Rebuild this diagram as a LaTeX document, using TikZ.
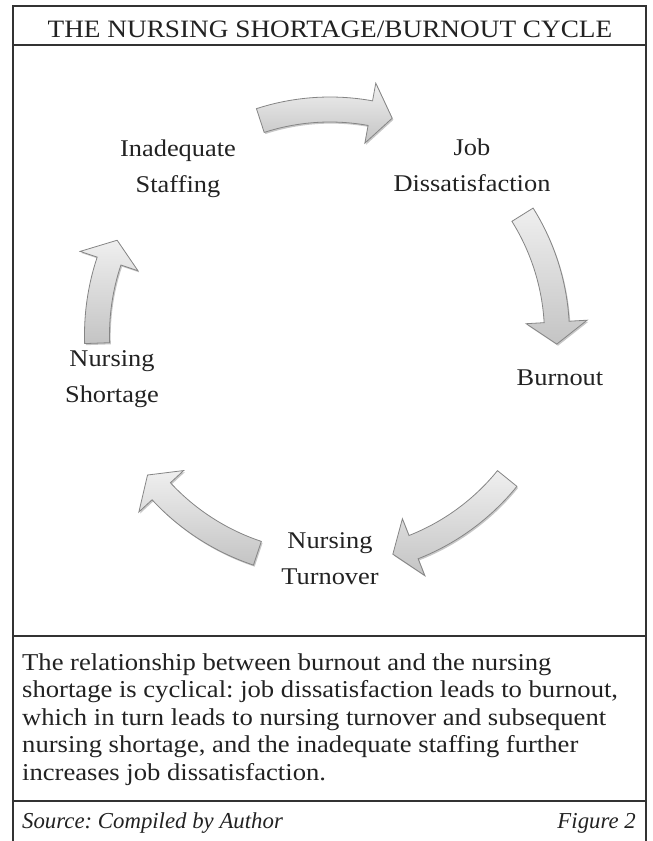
\documentclass[tikz,border=0pt]{standalone}
\usepackage{fontspec}
\setmainfont{Liberation Serif}
\newfontfamily\gfont[FakeStretch=1.1]{Liberation Serif}
\newfontfamily\tfont[FakeStretch=1.09]{Liberation Serif}
\newfontfamily\ifont{Liberation Serif}
\frenchspacing
\usetikzlibrary{shadows}
\definecolor{ink}{HTML}{222222}
\definecolor{framecol}{HTML}{333333}
\definecolor{arrowline}{HTML}{858585}
\definecolor{arrowtop}{HTML}{EFEFEF}
\definecolor{arrowbot}{HTML}{C4C4C4}
\tikzset{
  frameline/.style={draw=framecol, line width=2.2pt},
  titletext/.style={font=\tfont\fontsize{25}{30}\selectfont, text=ink, inner sep=0pt},
  labeltext/.style={font=\gfont\fontsize{24}{36}\selectfont, text=ink, align=center, inner sep=0pt},
  captext/.style={font=\gfont\fontsize{24.2}{27.5}\selectfont, text=ink, align=left, inner sep=0pt},
  srctext/.style={font=\ifont\itshape\fontsize{22.8}{27.5}\selectfont, text=ink, inner sep=0pt},
  blockarrow/.style={draw=arrowline, line width=0.8pt, line join=miter,
    top color=arrowtop, bottom color=arrowbot,
    drop shadow={shadow xshift=1.2pt, shadow yshift=-1.6pt, opacity=0.22, fill=black}}
}
\newcommand\cyclearrow[4]{%
  \pgfmathsetmacro\cyRo{#4+12.5}\pgfmathsetmacro\cyRi{#4-12.5}%
  \pgfmathsetmacro\cyHo{#4+30.5}\pgfmathsetmacro\cyHi{#4-30.5}%
  \draw[blockarrow] (#1:\cyRo) arc[start angle=#1, end angle=#2, radius=\cyRo]
    -- (#2:\cyHo) -- (#3:#4) -- (#2:\cyHi) -- (#2:\cyRi)
    arc[start angle=#2, end angle=#1, radius=\cyRi] -- cycle;}
\begin{document}
\begin{tikzpicture}[x=1pt,y=1pt]
\useasboundingbox (0,0) rectangle (653,-841);
% frame
\draw[frameline] (13,-841) -- (13,-6) -- (646,-6) -- (646,-841);
\draw[frameline] (13,-45) -- (646,-45);
\draw[frameline] (13,-636) -- (646,-636);
\draw[frameline] (13,-801) -- (646,-801);
% title
\node[titletext, anchor=base] (title) at (330,-37) {THE NURSING SHORTAGE/BURNOUT CYCLE};
% arrows
\begin{scope}[shift={(330,-335)}]
  \cyclearrow{108}{79.7}{74}{225.5}
  \cyclearrow{32}{3.3}{-2.3}{227}
  \cyclearrow{-39}{-68.5}{-74}{228}
  \cyclearrow{-108.4}{-137.2}{-142.5}{230}
  \cyclearrow{182}{161.5}{156}{233}
\end{scope}
% labels
\node[labeltext, anchor=base] (staff) at (178,-192) {Inadequate\\Staffing};
\node[labeltext, anchor=base] (job) at (472,-191) {Job\\Dissatisfaction};
\node[labeltext, anchor=base] (burn) at (560,-385) {Burnout};
\node[labeltext, anchor=base] (turn) at (330,-584) {Nursing\\Turnover};
\node[labeltext, anchor=base] (short) at (112,-402) {Nursing\\Shortage};
% caption
\node[captext, anchor=base west] (cap) at (22,-780) {The relationship between burnout and the nursing\\shortage is cyclical: job dissatisfaction leads to burnout,\\which in turn leads to nursing turnover and subsequent\\nursing shortage, and the inadequate staffing further\\increases job dissatisfaction.};
\node[srctext, anchor=base west] (src) at (22,-828) {Source: Compiled by Author};
\node[srctext, anchor=base east] (fig) at (636,-828) {Figure 2};
\end{tikzpicture}
\end{document}
